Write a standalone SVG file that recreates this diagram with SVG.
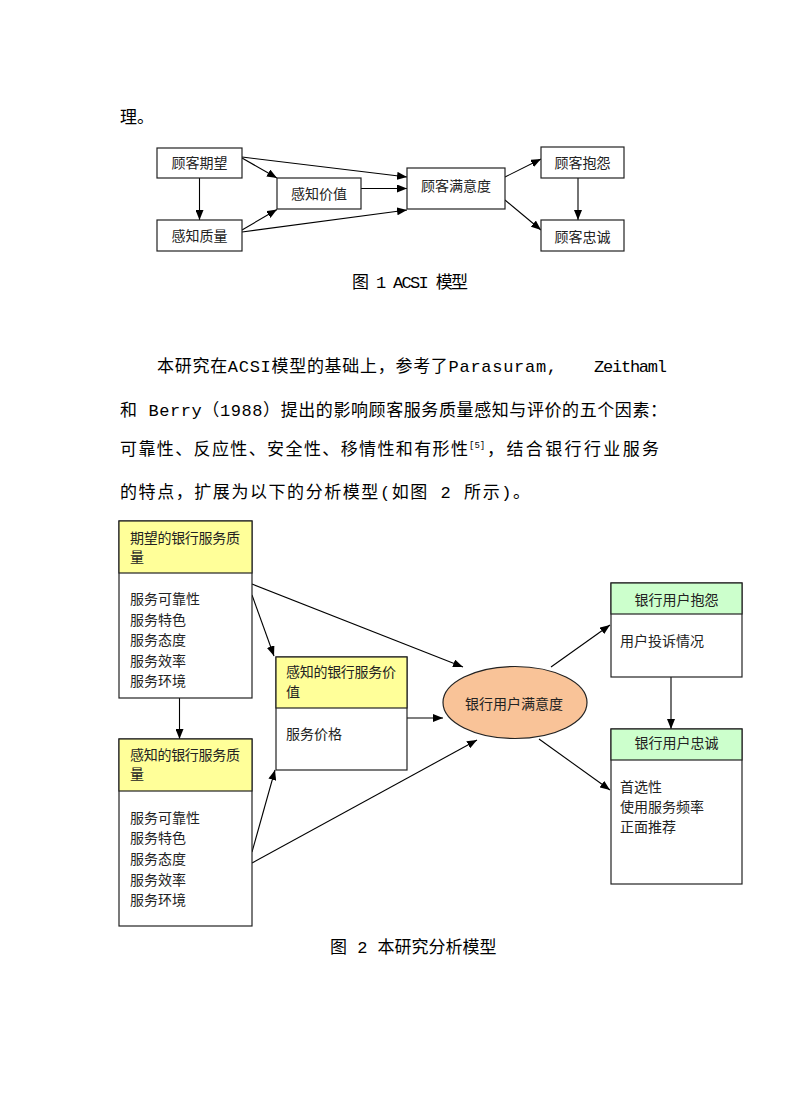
<svg xmlns="http://www.w3.org/2000/svg" width="792" height="1120" viewBox="0 0 792 1120">
<style>
.body{font-family:"Liberation Mono","Noto Sans CJK SC",monospace;font-size:17px;fill:#000}
.t{font-family:"Noto Sans CJK SC",sans-serif;font-size:14px;fill:#222}
.tc{font-family:"Noto Sans CJK SC",sans-serif;font-size:14px;fill:#222;text-anchor:middle}
.box{fill:#fff;stroke:#222;stroke-width:1.2}
.hy{fill:#FFFF99;stroke:#222;stroke-width:1.2}
.hg{fill:#CCFFCC;stroke:#222;stroke-width:1.2}
.c{fill:none;stroke:#000;stroke-width:1.1;marker-end:url(#ah)}
</style>
<defs>
<marker id="ah" markerUnits="userSpaceOnUse" markerWidth="10" markerHeight="8" refX="10" refY="4" orient="auto">
<path d="M0,0 L10,4 L0,8 z" fill="#000"/>
</marker>
</defs>
<rect width="792" height="1120" fill="#fff"/>

<!-- body text -->
<text class="body" x="120" y="123">理。</text>
<text class="body" x="352" y="288" textLength="116" lengthAdjust="spacing">图 1 ACSI 模型</text>
<text class="body" x="157" y="372" textLength="400" lengthAdjust="spacing">本研究在ACSI模型的基础上，参考了Parasuram,</text>
<text class="body" x="594" y="372" textLength="73" lengthAdjust="spacing">Zeithaml</text>
<text class="body" x="120" y="415.5" textLength="547" lengthAdjust="spacing">和 Berry（1988）提出的影响顾客服务质量感知与评价的五个因素：</text>
<text class="body" x="120" y="455" textLength="348" lengthAdjust="spacing">可靠性、反应性、安全性、移情性和有形性</text>
<text class="body" x="469" y="448" style="font-size:9px">[5]</text>
<text class="body" x="487" y="455" textLength="172" lengthAdjust="spacing">，结合银行行业服务</text>
<text class="body" x="120" y="498" textLength="410" lengthAdjust="spacing">的特点，扩展为以下的分析模型(如图 2 所示)。</text>
<text class="body" x="330" y="953">图 2 本研究分析模型</text>

<!-- Figure 1 connectors -->
<g id="fig1-connectors">
<line class="c" x1="199.5" y1="178" x2="199.5" y2="220"/>
<line class="c" x1="242" y1="158" x2="277" y2="178"/>
<line class="c" x1="242" y1="157" x2="407" y2="177"/>
<line class="c" x1="361" y1="188.5" x2="407" y2="188.5"/>
<line class="c" x1="242" y1="230" x2="277" y2="209.5"/>
<line class="c" x1="242" y1="232" x2="407" y2="210"/>
<line class="c" x1="505" y1="177" x2="541" y2="159"/>
<line class="c" x1="505" y1="200" x2="541" y2="230"/>
<line class="c" x1="578" y1="178" x2="578" y2="220"/>
</g>

<!-- Figure 1 nodes -->
<g id="f1-expect"><rect class="box" x="157" y="148" width="85" height="30"/><text class="tc" x="199.5" y="168">顾客期望</text></g>
<g id="f1-quality"><rect class="box" x="157" y="220" width="85" height="31"/><text class="tc" x="199.5" y="240.5">感知质量</text></g>
<g id="f1-value"><rect class="box" x="277" y="178" width="84" height="31"/><text class="tc" x="319" y="198.5">感知价值</text></g>
<g id="f1-satisfaction"><rect class="box" x="407" y="168" width="98" height="41"/><text class="tc" x="456" y="190.5">顾客满意度</text></g>
<g id="f1-complaint"><rect class="box" x="541" y="147" width="83" height="31"/><text class="tc" x="582.5" y="168">顾客抱怨</text></g>
<g id="f1-loyalty"><rect class="box" x="541" y="220" width="83" height="31"/><text class="tc" x="582.5" y="241.5">顾客忠诚</text></g>

<!-- Figure 2 connectors -->
<g id="fig2-connectors">
<line class="c" x1="179.5" y1="698" x2="179.5" y2="739"/>
<line class="c" x1="252" y1="584" x2="463" y2="667"/>
<line class="c" x1="252" y1="595" x2="274" y2="656"/>
<line class="c" x1="252" y1="852" x2="275" y2="770"/>
<line class="c" x1="252" y1="863" x2="477" y2="740"/>
<line class="c" x1="407" y1="718" x2="443" y2="718"/>
<line class="c" x1="551" y1="667" x2="610" y2="625"/>
<line class="c" x1="539" y1="739" x2="610" y2="790"/>
<line class="c" x1="671" y1="677" x2="671" y2="729"/>
</g>

<!-- Figure 2 nodes -->
<g id="f2-expected-quality">
<rect class="box" x="119" y="521" width="133" height="177"/>
<rect class="hy" x="119" y="521" width="133" height="52"/>
<text class="t" x="130" y="542.7" textLength="110" lengthAdjust="spacing">期望的银行服务质</text>
<text class="t" x="130" y="562">量</text>
<text class="t" x="130" y="604">服务可靠性</text>
<text class="t" x="130" y="624.6">服务特色</text>
<text class="t" x="130" y="645.2">服务态度</text>
<text class="t" x="130" y="665.8">服务效率</text>
<text class="t" x="130" y="686.4">服务环境</text>
</g>
<g id="f2-perceived-quality">
<rect class="box" x="119" y="739" width="133" height="187"/>
<rect class="hy" x="119" y="739" width="133" height="52"/>
<text class="t" x="130" y="760" textLength="110" lengthAdjust="spacing">感知的银行服务质</text>
<text class="t" x="130" y="779.3">量</text>
<text class="t" x="130" y="822.7">服务可靠性</text>
<text class="t" x="130" y="843.3">服务特色</text>
<text class="t" x="130" y="863.9">服务态度</text>
<text class="t" x="130" y="884.5">服务效率</text>
<text class="t" x="130" y="905.1">服务环境</text>
</g>
<g id="f2-perceived-value">
<rect class="box" x="276" y="657" width="131" height="113"/>
<rect class="hy" x="276" y="657" width="131" height="51"/>
<text class="t" x="286" y="677.3" textLength="110" lengthAdjust="spacing">感知的银行服务价</text>
<text class="t" x="286" y="697.3">值</text>
<text class="t" x="286" y="739">服务价格</text>
</g>
<g id="f2-satisfaction">
<ellipse cx="515" cy="702.5" rx="72" ry="36" fill="#F9C398" stroke="#222" stroke-width="1.2"/>
<text class="tc" x="514" y="709">银行用户满意度</text>
</g>
<g id="f2-complaint">
<rect class="box" x="611" y="583" width="131" height="94"/>
<rect class="hg" x="611" y="583" width="131" height="31"/>
<text class="tc" x="676.5" y="605">银行用户抱怨</text>
<text class="t" x="620" y="646">用户投诉情况</text>
</g>
<g id="f2-loyalty">
<rect class="box" x="611" y="729" width="131" height="155"/>
<rect class="hg" x="611" y="729" width="131" height="31"/>
<text class="tc" x="676.5" y="748.3">银行用户忠诚</text>
<text class="t" x="620" y="791.7">首选性</text>
<text class="t" x="620" y="812.3">使用服务频率</text>
<text class="t" x="620" y="832.3">正面推荐</text>
</g>
</svg>
